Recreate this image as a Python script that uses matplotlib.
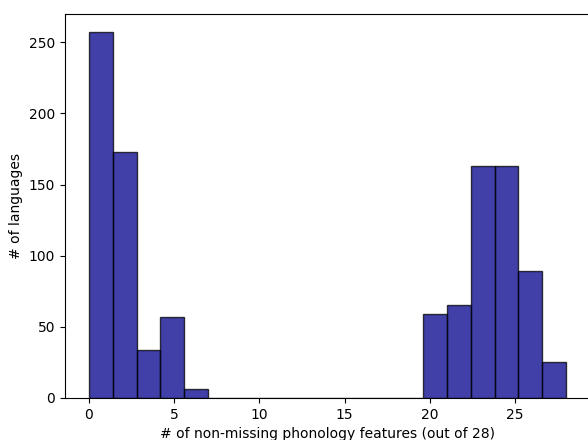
import numpy as np
import matplotlib
matplotlib.use("Agg")
import matplotlib.pyplot as plt

# counts per histogram bin (20 bins over 0..28)
bin_edges = np.linspace(0, 28, 21)
counts = [257, 173, 34, 57, 6, 0, 0, 0, 0, 0,
          0, 0, 0, 0, 59, 65, 163, 163, 89, 25]

centers = (bin_edges[:-1] + bin_edges[1:]) / 2

fig = plt.figure(figsize=(5.88, 4.4), dpi=100)
ax = fig.add_axes([0.1105, 0.0955, 0.8929, 0.8727])

ax.hist(centers, bins=bin_edges, weights=counts, color="darkblue",
        alpha=0.75, edgecolor="black", linewidth=1)

ax.set_xlabel("# of non-missing phonology features (out of 28)")
ax.set_ylabel("# of languages")

fig.savefig("out.png", dpi=100)
